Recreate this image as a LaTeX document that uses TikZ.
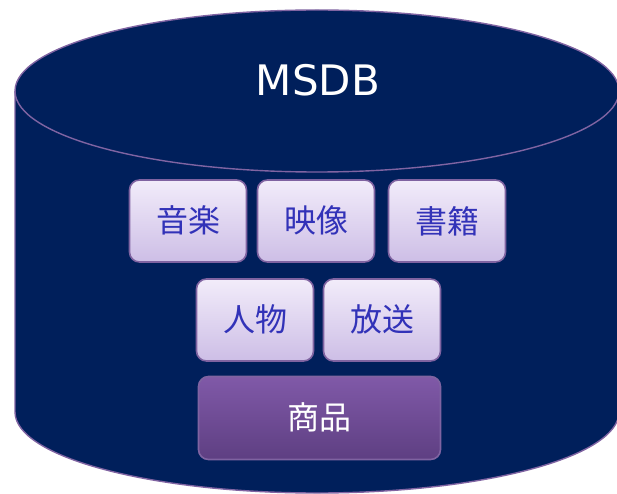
\documentclass[tikz,border=0pt]{standalone}
\usepackage{fontspec}
\newfontfamily\jp{Noto Sans CJK JP}
\newfontfamily\dv{DejaVu Sans}
\definecolor{cylfill}{HTML}{001F5B}
\definecolor{cyledge}{HTML}{8064A2}
\definecolor{boxtop}{HTML}{F2ECFA}
\definecolor{boxbot}{HTML}{CDBEE6}
\definecolor{boxedge}{HTML}{7F63A1}
\definecolor{boxtext}{HTML}{3232B8}
\definecolor{prodtop}{HTML}{8059A8}
\definecolor{prodbot}{HTML}{5E3F82}
\newcommand{\up}[1]{\raisebox{3pt}{#1}}
\tikzset{
  cat/.style={draw=boxedge, line width=1.6pt, rounded corners=10pt, top color=boxtop, bottom color=boxbot,
    minimum width=117pt, minimum height=82pt, inner sep=0pt, text=boxtext, font=\jp\fontsize{32}{36}\selectfont},
  prod/.style={draw=boxedge, line width=1.6pt, rounded corners=10pt, top color=prodtop, bottom color=prodbot,
    minimum width=242pt, minimum height=83pt, inner sep=0pt, text=white, font=\jp\fontsize{32}{36}\selectfont},
  cyl/.style={fill=cylfill},
  cyll/.style={draw=cyledge, line width=1.4pt}
}
\begin{document}
\begin{tikzpicture}[x=1pt,y=1pt]
\useasboundingbox (0,0) rectangle (617,-494);
\fill[cyl] (15,-91) -- (15,-412) arc[start angle=180,end angle=360,x radius=302,y radius=81]
  -- (619,-91) arc[start angle=0,end angle=180,x radius=302,y radius=81] -- cycle;
\draw[cyll] (15,-91) -- (15,-412) arc[start angle=180,end angle=360,x radius=302,y radius=81]
  -- (619,-91) arc[start angle=0,end angle=180,x radius=302,y radius=81];
\draw[cyll] (15,-91) arc[start angle=180,end angle=360,x radius=302,y radius=81];
\node[text=white, font=\dv\fontsize{42}{48}\selectfont] (title) at (318,-80) {MSDB};
\node[cat] (music) at (188,-221) {\up{音楽}};
\node[cat] (video) at (316,-221) {\up{映像}};
\node[cat] (book) at (447,-221) {\up{書籍}};
\node[cat] (person) at (255,-320) {\up{人物}};
\node[cat] (broadcast) at (382,-320) {\up{放送}};
\node[prod] (product) at (319.5,-418) {\up{商品}};
\end{tikzpicture}
\end{document}
